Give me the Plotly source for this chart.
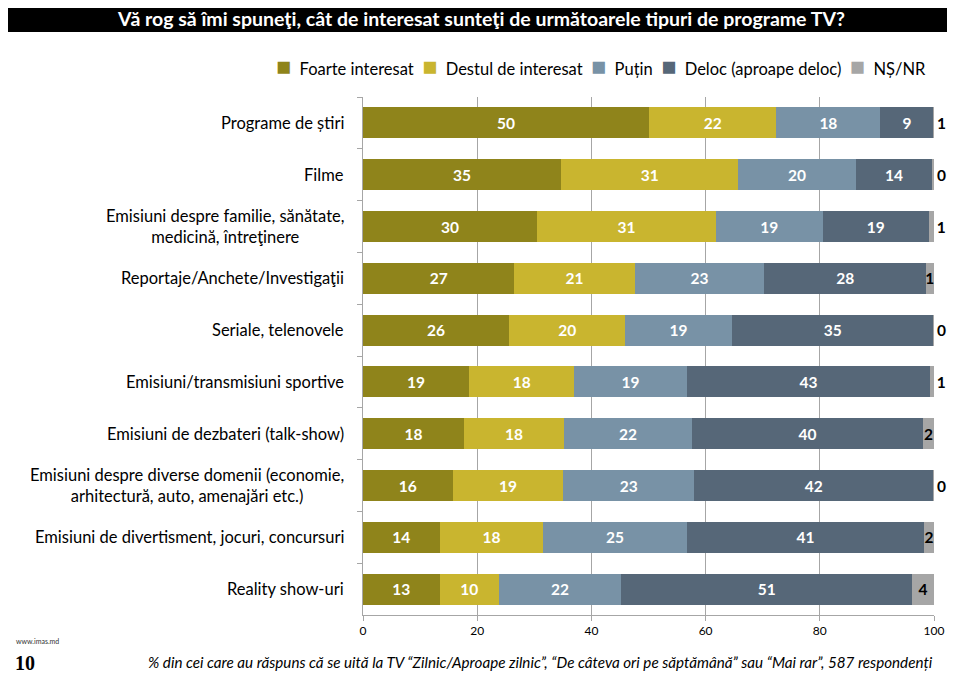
import plotly.graph_objects as go

categories = [
    "Programe de știri",
    "Filme",
    "Emisiuni despre familie, sănătate,<br>medicină, întreţinere",
    "Reportaje/Anchete/Investigaţii",
    "Seriale, telenovele",
    "Emisiuni/transmisiuni sportive",
    "Emisiuni de dezbateri (talk-show)",
    "Emisiuni despre diverse domenii (economie,<br>arhitectură, auto, amenajări etc.)",
    "Emisiuni de divertisment, jocuri, concursuri",
    "Reality show-uri",
]
series_names = ["Foarte interesat", "Destul de interesat", "Puțin",
                "Deloc (aproape deloc)", "NȘ/NR"]

# bar lengths (%)
foarte = [50.1, 34.7, 30.5, 26.5, 25.6, 18.6, 17.7, 15.7, 13.4, 13.4]
destul = [22.3, 31.0, 31.3, 21.1, 20.3, 18.4, 17.5, 19.4, 18.2, 10.4]
putin = [18.2, 20.6, 18.7, 22.7, 18.7, 19.7, 22.4, 22.9, 25.1, 21.4]
deloc = [9.3, 13.4, 18.6, 28.3, 35.3, 42.6, 40.5, 41.9, 41.6, 51.0]
nsnr = [0.1, 0.25, 0.85, 1.35, 0.05, 0.65, 1.85, 0.05, 1.65, 3.75]

# printed labels
foarte_lbl = [50, 35, 30, 27, 26, 19, 18, 16, 14, 13]
destul_lbl = [22, 31, 31, 21, 20, 18, 18, 19, 18, 10]
putin_lbl = [18, 20, 19, 23, 19, 19, 22, 23, 25, 22]
deloc_lbl = [9, 14, 19, 28, 35, 43, 40, 42, 41, 51]
nsnr_lbl = [1, 0, 1, 1, 0, 1, 2, 0, 2, 4]

x_ticks = [0, 20, 40, 60, 80, 100]

colors = ["#8F841B", "#C9B52F", "#7892A6", "#566778", "#A6A6A6"]

FONT = "Lato"
values = [foarte, destul, putin, deloc, nsnr]
labels = [foarte_lbl, destul_lbl, putin_lbl, deloc_lbl, nsnr_lbl]

fig = go.Figure()
for k, name in enumerate(series_names):
    last = k == len(series_names) - 1
    fig.add_trace(go.Bar(
        y=categories, x=values[k], name=name, orientation="h",
        marker=dict(color=colors[k], line=dict(width=0)),
        text=[str(v) for v in labels[k]],
        textposition=(["inside" if v >= 1.3 else "outside" for v in nsnr]
                      if last else "inside"),
        insidetextanchor="middle",
        textangle=0,
        constraintext="none",
        cliponaxis=False,
        textfont=dict(family=FONT, size=15.5,
                      color="black" if last else "white", weight="bold"),
        hoverinfo="skip",
        showlegend=False,
    ))

# category labels (centred multi-line, right aligned to the axis)
for cat in categories:
    fig.add_annotation(
        x=0, xref="paper", y=cat, yref="y", xanchor="right", xshift=-17,
        text=cat, showarrow=False, align="center",
        font=dict(family=FONT, size=16.5, color="black"),
    )

# legend row: coloured squares + names
legend_text = "\u00a0\u00a0".join(
    f'<span style="color:{c};font-size:25px">■</span>\u00a0\u00a0{n}'
    for c, n in zip(colors, series_names)
)
fig.add_annotation(x=0.9895, y=1.0618, xref="paper", yref="paper",
                   xanchor="right", yanchor="middle", showarrow=False,
                   text=legend_text,
                   font=dict(family=FONT, size=16.5, color="black"))

# title bar
fig.add_shape(type="rect", xref="paper", yref="paper",
              x0=-0.6235, x1=1.028, y0=1.1255, y1=1.1815,
              fillcolor="black", line=dict(width=0), layer="above")

fig.add_annotation(x=-0.6112, y=-0.050, xref="paper", yref="paper",
                   xanchor="left", yanchor="middle", showarrow=False,
                   text="www.imas.md",
                   font=dict(family=FONT, size=7, color="#333333"))
fig.add_annotation(x=-0.613, y=-0.093, xref="paper", yref="paper",
                   xanchor="left", yanchor="middle", showarrow=False,
                   text="<b>10</b>",
                   font=dict(family="Liberation Serif", size=20, color="black"))
fig.add_annotation(x=0.31, y=-0.091, xref="paper", yref="paper",
                   xanchor="center", yanchor="middle", showarrow=False,
                   text="<i>% din cei care au răspuns că se uită la TV “Zilnic/Aproape zilnic”, "
                        "“De câteva ori pe săptămână” sau “Mai rar”, 587 respondenți</i>",
                   font=dict(family=FONT, size=15.2, color="black"))

fig.update_layout(
    width=947, height=665,
    margin=dict(l=355, r=21, t=89, b=58, autoexpand=False),
    paper_bgcolor="white", plot_bgcolor="white",
    barmode="stack", bargap=0.4,
    showlegend=False,
    font=dict(family=FONT, size=14, color="black"),
    title=dict(text="<b>Vă rog să îmi spuneţi, cât de interesat sunteţi de următoarele tipuri de programe TV?</b>",
               x=0.5, xref="container", xanchor="center",
               y=1 - 11 / 665, yref="container", yanchor="middle",
               font=dict(family=FONT, size=19.5, color="white")),
    xaxis=dict(range=[0, 100], tickvals=x_ticks, showgrid=True,
               gridcolor="#A6A6A6", gridwidth=1, zeroline=False,
               showline=True, linecolor="#A6A6A6", linewidth=1,
               ticks="outside", ticklen=5, tickcolor="#A6A6A6",
               automargin=False,
               tickfont=dict(family=FONT, size=12, color="black")),
    yaxis=dict(autorange="reversed", showticklabels=False, showgrid=False,
               showline=True, linecolor="#A6A6A6", linewidth=1,
               ticks="outside", ticklen=5, tickcolor="#A6A6A6",
               automargin=False, tickson="boundaries"),
)

fig.write_html("out.html")
